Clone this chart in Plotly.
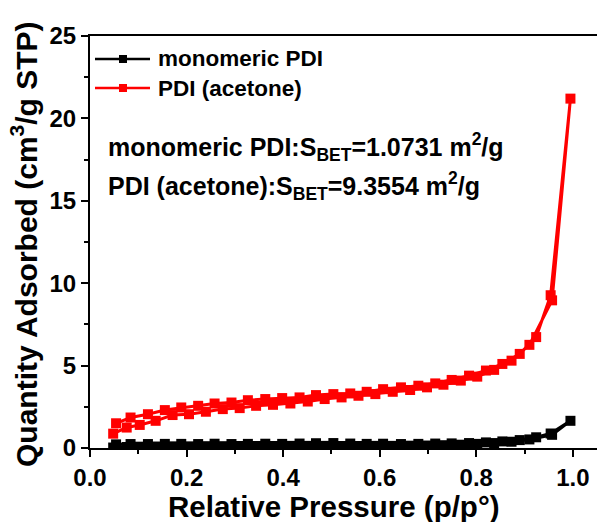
import plotly.graph_objects as go

# ---- N2 isotherm data (relative pressure p/p0, quantity adsorbed cm3/g STP) ----
# adsorption branch
ads_p = [0.048, 0.076, 0.103, 0.136, 0.171, 0.205, 0.240, 0.275, 0.310, 0.344,
         0.379, 0.415, 0.451, 0.486, 0.521, 0.556, 0.591, 0.627, 0.663, 0.698,
         0.732, 0.768, 0.802, 0.837, 0.873, 0.910, 0.957, 0.995]
# desorption branch
des_p = [0.954, 0.924, 0.890, 0.854, 0.820, 0.785, 0.749, 0.715, 0.680, 0.644,
         0.607, 0.573, 0.539, 0.504, 0.468, 0.434, 0.398, 0.363, 0.327, 0.293,
         0.258, 0.224, 0.189, 0.155, 0.120, 0.084, 0.054]

acetone_ads = [0.87, 1.24, 1.40, 1.65, 2.00, 2.05, 2.20, 2.36, 2.42, 2.56,
               2.62, 2.70, 2.82, 2.97, 3.07, 3.17, 3.27, 3.41, 3.52, 3.68,
               3.84, 4.09, 4.33, 4.74, 5.30, 6.26, 8.96, 21.2]
acetone_des = [9.27, 6.73, 5.71, 5.10, 4.70, 4.39, 4.13, 3.92, 3.78, 3.68,
               3.57, 3.41, 3.31, 3.27, 3.21, 3.07, 3.03, 2.97, 2.90, 2.76,
               2.70, 2.56, 2.46, 2.30, 2.05, 1.85, 1.50]

mono_ads = [0.03, 0.06, 0.08, 0.09, 0.10, 0.10, 0.11, 0.11, 0.12, 0.12,
            0.12, 0.13, 0.13, 0.13, 0.12, 0.12, 0.13, 0.13, 0.14, 0.15,
            0.17, 0.20, 0.25, 0.30, 0.38, 0.52, 0.80, 1.65]
mono_des = [0.88, 0.65, 0.48, 0.40, 0.34, 0.30, 0.28, 0.27, 0.25, 0.24,
            0.26, 0.25, 0.27, 0.30, 0.29, 0.27, 0.25, 0.26, 0.25, 0.24,
            0.26, 0.24, 0.25, 0.25, 0.24, 0.24, 0.22]

series_names = ["monomeric PDI", "PDI (acetone)"]
series_colors = ["#000000", "#ff0000"]
bet_values = ["1.0731", "9.3554"]

x_ticks = [0.0, 0.2, 0.4, 0.6, 0.8, 1.0]
x_ticktext = ["0.0", "0.2", "0.4", "0.6", "0.8", "1.0"]
y_ticks = [0, 5, 10, 15, 20, 25]

# ---- figure geometry (pixels) ----
W, H = 597, 522
ML, MR, MT, MB = 90, 0, 36, 74
PW, PH = W - ML - MR, H - MT - MB

def px(xp):
    return (xp - ML) / PW

def py(yp):
    return (H - MB - yp) / PH

FONT = "Liberation Sans, Arial, sans-serif"

fig = go.Figure()
for name, color, ya, yd in zip(series_names, series_colors,
                               [mono_ads, acetone_ads], [mono_des, acetone_des]):
    fig.add_trace(go.Scatter(
        x=ads_p + des_p, y=ya + yd, mode="lines+markers", name=name,
        line=dict(color=color, width=3),
        marker=dict(symbol="square", size=10, color=color),
        showlegend=False,
    ))

axis_common = dict(
    showline=True, linecolor="black", linewidth=2.2,
    ticks="outside", ticklen=7, tickwidth=2, tickcolor="black",
    showgrid=False, zeroline=False,
    tickfont=dict(family=FONT, size=24, color="black", weight="bold"),
)

fig.update_xaxes(range=[0, 1.05], tickvals=x_ticks, ticktext=x_ticktext,
                 mirror=True,
                 minor=dict(dtick=0.1, tick0=0, ticks="outside", ticklen=4,
                            tickwidth=2, tickcolor="black"),
                 **axis_common)
fig.update_yaxes(range=[0, 25], tickvals=y_ticks,
                 minor=dict(dtick=2.5, tick0=0, ticks="outside", ticklen=4,
                            tickwidth=2, tickcolor="black"),
                 **axis_common)

annotations = []
# axis titles
annotations.append(dict(
    text="Relative Pressure (p/p°)", xref="paper", yref="paper",
    x=px(334), y=py(506.5), xanchor="center", yanchor="middle", showarrow=False,
    font=dict(family=FONT, size=29.5, color="black", weight="bold")))
annotations.append(dict(
    text="Quantity Adsorbed (cm<sup>3</sup>/g STP)", xref="paper", yref="paper",
    x=px(24), y=py(244), xanchor="center", yanchor="middle", showarrow=False,
    textangle=-90,
    font=dict(family=FONT, size=30, color="black", weight="bold")))

# legend
shapes = []
for i, (name, color) in enumerate(zip(series_names, series_colors)):
    yy = 59 + 29 * i
    shapes.append(dict(type="line", xref="paper", yref="paper",
                       x0=px(95), x1=px(150), y0=py(yy), y1=py(yy),
                       line=dict(color=color, width=2.4)))
    shapes.append(dict(type="rect", xref="paper", yref="paper",
                       x0=px(119), x1=px(127), y0=py(yy - 4), y1=py(yy + 4),
                       line=dict(width=0), fillcolor=color))
    annotations.append(dict(
        text=name, xref="paper", yref="paper", x=px(156), y=py(yy),
        xanchor="left", yanchor="middle", showarrow=False,
        font=dict(family=FONT, size=22.5, color="black", weight="bold")))

# BET surface areas
for i, (name, val) in enumerate(zip(series_names, bet_values)):
    yy = 147 + 39 * i
    annotations.append(dict(
        text=f"{name}:S<sub>BET</sub>={val} m<sup>2</sup>/g",
        xref="paper", yref="paper", x=px(106), y=py(yy),
        xanchor="left", yanchor="middle", showarrow=False,
        font=dict(family=FONT, size=25, color="black", weight="bold")))

fig.update_layout(
    width=W, height=H, margin=dict(l=ML, r=MR, t=MT, b=MB),
    paper_bgcolor="white", plot_bgcolor="white",
    annotations=annotations, shapes=shapes, showlegend=False,
)

fig.write_html("out.html")
